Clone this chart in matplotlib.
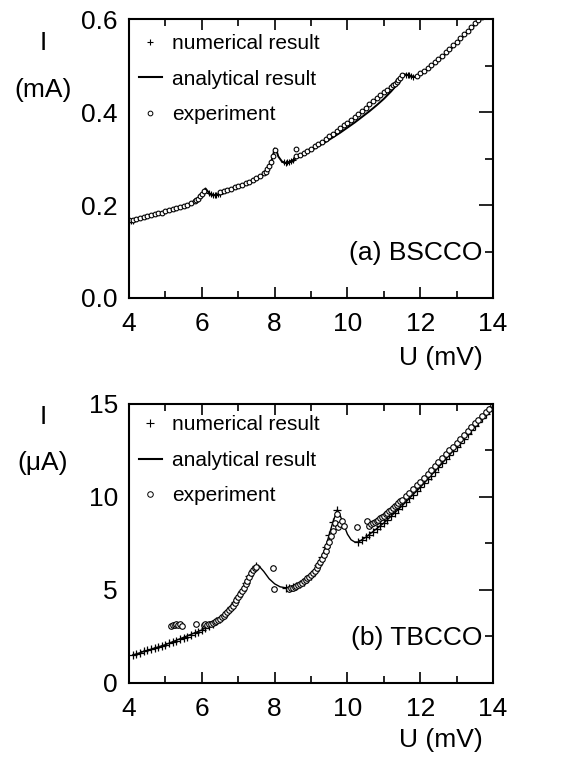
import matplotlib
matplotlib.use('Agg')
import matplotlib.pyplot as plt
from matplotlib.ticker import MultipleLocator, FormatStrFormatter
from matplotlib.lines import Line2D

plt.rcParams['font.family'] = ['Liberation Sans', 'DejaVu Sans']

# ---- (a) BSCCO, I in mA ----
u_ana_a = [4.0, 4.2, 4.4, 4.6, 4.8, 5.0, 5.2, 5.4, 5.6, 5.7, 5.8, 5.9, 6.0, 6.05, 6.1,
           6.2, 6.3, 6.4, 6.5, 6.7, 6.9, 7.1, 7.3, 7.5, 7.6, 7.7, 7.8, 7.9, 7.95, 8.0,
           8.05, 8.1, 8.2, 8.3, 8.4, 8.6, 8.8, 9.0, 9.2, 9.4, 9.6, 9.8, 10.0, 10.2,
           10.4, 10.6, 10.8, 11.0, 11.2, 11.3, 11.4, 11.5, 11.55, 11.7, 11.8, 11.9,
           12.0, 12.2, 12.4, 12.6, 12.8, 13.0, 13.2, 13.4, 13.6, 13.7]
i_ana_a = [0.163, 0.168, 0.172, 0.177, 0.181, 0.186, 0.190, 0.195, 0.200, 0.203, 0.207,
           0.213, 0.222, 0.230, 0.236,
           0.226, 0.221, 0.222, 0.225, 0.231, 0.237, 0.243, 0.249, 0.257, 0.262, 0.268,
           0.277, 0.292, 0.305, 0.322,
           0.318, 0.305, 0.294, 0.291, 0.293, 0.301, 0.309, 0.318, 0.327, 0.336, 0.346,
           0.356, 0.367, 0.378, 0.390, 0.402, 0.415, 0.429, 0.445, 0.454, 0.465, 0.478,
           0.482, 0.480, 0.476, 0.477, 0.481, 0.492, 0.505, 0.519, 0.533, 0.549, 0.565,
           0.581, 0.596, 0.603]

u_num_a = [4.0, 4.05, 4.1, 6.2, 6.25, 6.3, 6.35, 6.4, 6.45, 6.5,
           8.25, 8.3, 8.35, 8.4, 8.45, 8.5, 11.6, 11.65, 11.7, 11.75, 11.8]
i_num_a = [0.163, 0.165, 0.166, 0.226, 0.223, 0.221, 0.221, 0.222, 0.223, 0.225,
           0.292, 0.291, 0.292, 0.293, 0.295, 0.297, 0.481, 0.481, 0.480, 0.478, 0.476]

u_exp_a = [4.0, 4.1, 4.2, 4.3, 4.4, 4.5, 4.6, 4.7, 4.8, 4.9, 5.0, 5.1, 5.2, 5.3, 5.4,
           5.5, 5.6, 5.7, 5.8, 5.85, 5.9, 5.95, 6.0, 6.05,
           6.5, 6.6, 6.7, 6.8, 6.9, 7.0, 7.1, 7.2, 7.3, 7.4, 7.5, 7.6, 7.7, 7.75, 7.8,
           7.85, 7.9, 7.95, 8.0, 8.6,
           8.6, 8.7, 8.8, 8.9, 9.0, 9.1, 9.2, 9.3, 9.4, 9.5, 9.6, 9.7, 9.8, 9.9, 10.0,
           10.1, 10.2, 10.3, 10.4, 10.5, 10.6, 10.7, 10.8, 10.9, 11.0, 11.1, 11.2, 11.25,
           11.3, 11.35, 11.4, 11.45, 11.5,
           11.9, 12.0, 12.1, 12.2, 12.3, 12.4, 12.5, 12.6, 12.7, 12.8, 12.9, 13.0, 13.1,
           13.2, 13.3, 13.4, 13.5, 13.6, 13.7]
i_exp_a = [0.167, 0.168, 0.170, 0.172, 0.174, 0.176, 0.178, 0.180, 0.182, 0.184, 0.187,
           0.189, 0.191, 0.193, 0.196, 0.198, 0.201, 0.204, 0.208, 0.211, 0.214, 0.219,
           0.224, 0.231,
           0.228, 0.230, 0.232, 0.235, 0.238, 0.241, 0.244, 0.247, 0.250, 0.254, 0.258,
           0.263, 0.269, 0.272, 0.278, 0.285, 0.294, 0.306, 0.318, 0.322,
           0.305, 0.309, 0.313, 0.317, 0.322, 0.327, 0.332, 0.337, 0.342, 0.348, 0.354,
           0.360, 0.366, 0.372, 0.378, 0.384, 0.390, 0.396, 0.403, 0.410, 0.417, 0.424,
           0.430, 0.437, 0.443, 0.449, 0.455, 0.458, 0.462, 0.465, 0.469, 0.474, 0.480,
           0.479, 0.484, 0.489, 0.495, 0.501, 0.508, 0.515, 0.522, 0.529, 0.536, 0.544,
           0.552, 0.560, 0.568, 0.576, 0.584, 0.592, 0.599, 0.605]

# ---- (b) TBCCO, I in uA ----
u_ana_b = [4.1, 5.0, 6.0, 6.5, 7.0, 7.2, 7.4, 7.55, 7.7, 7.85, 8.0, 8.15, 8.3, 8.5,
           8.8, 9.0, 9.2, 9.4, 9.6, 9.72, 9.8, 9.9, 10.0, 10.1, 10.2, 10.3, 10.5, 11.0,
           11.5, 12.0, 12.5, 13.0, 13.5, 14.0]
i_ana_b = [1.50, 2.06, 2.85, 3.46, 4.63, 5.35, 6.10, 6.33, 6.00, 5.60, 5.33, 5.17, 5.12,
           5.17, 5.43, 5.75, 6.33, 7.30, 8.65, 9.30, 9.00, 8.50, 8.00, 7.70, 7.58, 7.58,
           7.83, 8.60, 9.52, 10.52, 11.59, 12.70, 13.80, 14.90]

u_num_b = [4.1, 4.2, 4.3, 4.4, 4.5, 4.6, 4.7, 4.8, 4.9, 5.0, 5.1, 5.2, 5.3, 5.4, 5.5,
           5.6, 5.7, 5.8, 5.9, 6.0, 6.1, 6.2, 6.3, 6.4, 6.5, 6.6, 6.7, 6.8, 6.9, 7.0,
           7.1, 7.2, 7.3, 7.4, 7.5,
           8.3, 8.4, 8.5, 8.6, 8.7, 8.8, 8.9, 9.0, 9.1, 9.2, 9.3, 9.4, 9.5, 9.6, 9.7,
           10.3, 10.4, 10.5, 10.6, 10.7, 10.8, 10.9, 11.0, 11.1, 11.2, 11.3, 11.4, 11.5,
           11.6, 11.7, 11.8, 11.9, 12.0, 12.1, 12.2, 12.3, 12.4, 12.5, 12.6, 12.7, 12.8,
           12.9, 13.0, 13.1, 13.2, 13.3, 13.4, 13.5, 13.6, 13.7, 13.8, 13.9, 14.0]
i_num_b = [1.50, 1.57, 1.63, 1.70, 1.76, 1.82, 1.88, 1.94, 2.00, 2.06, 2.13, 2.20, 2.27,
           2.34, 2.41, 2.49, 2.57, 2.66, 2.75, 2.85, 2.95, 3.06, 3.18, 3.31, 3.46, 3.63,
           3.83, 4.06, 4.33, 4.63, 4.97, 5.35, 5.75, 6.10, 6.30,
           5.12, 5.13, 5.17, 5.23, 5.32, 5.43, 5.57, 5.75, 6.00, 6.33, 6.75, 7.30, 7.95,
           8.65, 9.30,
           7.58, 7.70, 7.83, 7.97, 8.12, 8.27, 8.43, 8.60, 8.78, 8.96, 9.14, 9.33, 9.52,
           9.72, 9.92, 10.12, 10.32, 10.52, 10.73, 10.94, 11.15, 11.37, 11.59, 11.81,
           12.03, 12.25, 12.47, 12.70, 12.92, 13.14, 13.36, 13.58, 13.80, 14.02, 14.24,
           14.46, 14.68, 14.90]

u_exp_b = [5.15, 5.2, 5.25, 5.3, 5.35, 5.4, 5.45, 5.85,
           6.05, 6.1, 6.15, 6.2, 6.25, 6.3, 6.35, 6.4, 6.45, 6.5,
           6.55, 6.6, 6.65, 6.7, 6.75, 6.8, 6.85, 6.9, 6.95, 7.0,
           7.05, 7.1, 7.15, 7.2, 7.25, 7.3, 7.35, 7.4, 7.45, 7.5,
           7.95, 7.97,
           8.4, 8.45, 8.5, 8.55, 8.6, 8.65, 8.7, 8.75, 8.8, 8.85,
           8.9, 8.95, 9.0, 9.05, 9.1, 9.15, 9.2, 9.25, 9.3, 9.35,
           9.4, 9.45, 9.5, 9.55, 9.6, 9.65, 9.7,
           9.75, 9.8, 9.85, 9.9, 10.25,
           10.55, 10.6, 10.65, 10.7, 10.75, 10.8, 10.85, 10.9, 10.95, 11.0,
           11.05, 11.1, 11.15, 11.2, 11.25, 11.3, 11.35, 11.4, 11.45, 11.5,
           11.6, 11.7, 11.8, 11.9, 12.0, 12.1, 12.2, 12.3, 12.4, 12.5,
           12.6, 12.7, 12.8, 12.9, 13.0, 13.1, 13.2, 13.3, 13.4, 13.5,
           13.6, 13.7, 13.8, 13.9, 14.0]
i_exp_b = [3.05, 3.10, 3.10, 3.15, 3.10, 3.15, 3.05, 3.15,
           3.10, 3.15, 3.10, 3.15, 3.18, 3.22, 3.27, 3.32, 3.38, 3.45,
           3.52, 3.60, 3.69, 3.79, 3.90, 4.02, 4.15, 4.29, 4.44, 4.60,
           4.77, 4.94, 5.12, 5.31, 5.50, 5.70, 5.90, 6.08, 6.20, 6.26,
           6.20, 5.05,
           5.05, 5.08, 5.12, 5.16, 5.21, 5.26, 5.32, 5.39, 5.46, 5.54,
           5.62, 5.71, 5.81, 5.92, 6.04, 6.18, 6.33, 6.50, 6.68, 6.88,
           7.10, 7.34, 7.60, 7.88, 8.18, 8.60, 9.10,
           8.40, 8.55, 8.70, 8.45, 8.40,
           8.70, 8.45, 8.55, 8.62, 8.66, 8.72, 8.78, 8.85, 8.92, 9.00,
           9.08, 9.16, 9.24, 9.32, 9.41, 9.50, 9.59, 9.68, 9.77, 9.86,
           10.05, 10.24, 10.43, 10.63, 10.83, 11.03, 11.24, 11.45, 11.66, 11.87,
           12.08, 12.29, 12.50, 12.71, 12.92, 13.13, 13.34, 13.55, 13.76, 13.96,
           14.16, 14.36, 14.56, 14.75, 14.92]

fig = plt.figure(figsize=(5.76, 7.66), dpi=100)
ax1 = fig.add_axes([0.224, 0.611, 0.632, 0.3636])
ax2 = fig.add_axes([0.224, 0.1084, 0.632, 0.3642])

big = 19
small = 15


def style(ax, ymaj, ymin):
    ax.set_xlim(4, 14)
    ax.xaxis.set_major_locator(MultipleLocator(2))
    ax.xaxis.set_minor_locator(MultipleLocator(1))
    ax.yaxis.set_major_locator(MultipleLocator(ymaj))
    ax.yaxis.set_minor_locator(MultipleLocator(ymin))
    ax.tick_params(axis='x', which='both', direction='in', top=True, bottom=True,
                   labelsize=big, pad=10, width=1.2)
    ax.tick_params(axis='x', which='major', length=8)
    ax.tick_params(axis='x', which='minor', length=5)
    ax.tick_params(axis='y', which='both', direction='in', left=False, right=True,
                   labelsize=big, pad=8, width=1.2)
    ax.tick_params(axis='y', which='major', length=10)
    ax.tick_params(axis='y', which='minor', length=6)
    for s in ax.spines.values():
        s.set_linewidth(1.5)


# top panel
ax1.plot(u_ana_a, i_ana_a, '-', color='black', lw=1.4)
ax1.plot(u_num_a, i_num_a, '+', color='black', ms=4, mew=0.8)
ax1.plot(u_exp_a, i_exp_a, 'o', mfc='white', mec='black', ms=3.4, mew=0.8)
ax1.set_ylim(0, 0.6)
style(ax1, 0.2, 0.1)
ax1.yaxis.set_major_formatter(FormatStrFormatter('%.1f'))
ax1.text(0.97, 0.16, '(a) BSCCO', transform=ax1.transAxes, ha='right', va='center',
         fontsize=big)

# bottom panel
ax2.plot(u_ana_b, i_ana_b, '-', color='black', lw=1.0)
ax2.plot(u_num_b, i_num_b, '+', color='black', ms=5.5, mew=0.9)
ax2.plot(u_exp_b, i_exp_b, 'o', mfc='white', mec='black', ms=4, mew=0.8)
ax2.set_ylim(0, 15)
style(ax2, 5, 2.5)
ax2.text(0.97, 0.16, '(b) TBCCO', transform=ax2.transAxes, ha='right', va='center',
         fontsize=big)

for ax, ms_p, ms_o, top in [(ax1, 4, 3.4, 0.963), (ax2, 5.5, 4, 0.975)]:
    handles = [Line2D([], [], ls='none', marker='+', color='black', ms=ms_p, mew=0.8),
               Line2D([], [], ls='-', color='black', lw=1.5),
               Line2D([], [], ls='none', marker='o', mfc='white', mec='black', ms=ms_o,
                      mew=0.7)]
    ax.legend(handles, ['numerical result', 'analytical result', 'experiment'],
              loc='upper left', bbox_to_anchor=(0.015, top), frameon=False,
              fontsize=small, handlelength=1.1, handletextpad=0.5, labelspacing=0.8,
              borderaxespad=0.0, borderpad=0.2)

# axis labels as free text, like the original
fig.text(43 / 576, 1 - 43 / 766, 'I', ha='center', va='center', fontsize=big)
fig.text(43 / 576, 1 - 90 / 766, '(mA)', ha='center', va='center', fontsize=big)
fig.text(441 / 576, 1 - 358 / 766, 'U (mV)', ha='center', va='center', fontsize=big)
fig.text(43 / 576, 1 - 417 / 766, 'I', ha='center', va='center', fontsize=big)
fig.text(43 / 576, 1 - 463 / 766, '(μA)', ha='center', va='center', fontsize=big)
fig.text(441 / 576, 1 - 740 / 766, 'U (mV)', ha='center', va='center', fontsize=big)

fig.savefig('out.png', dpi=100)
